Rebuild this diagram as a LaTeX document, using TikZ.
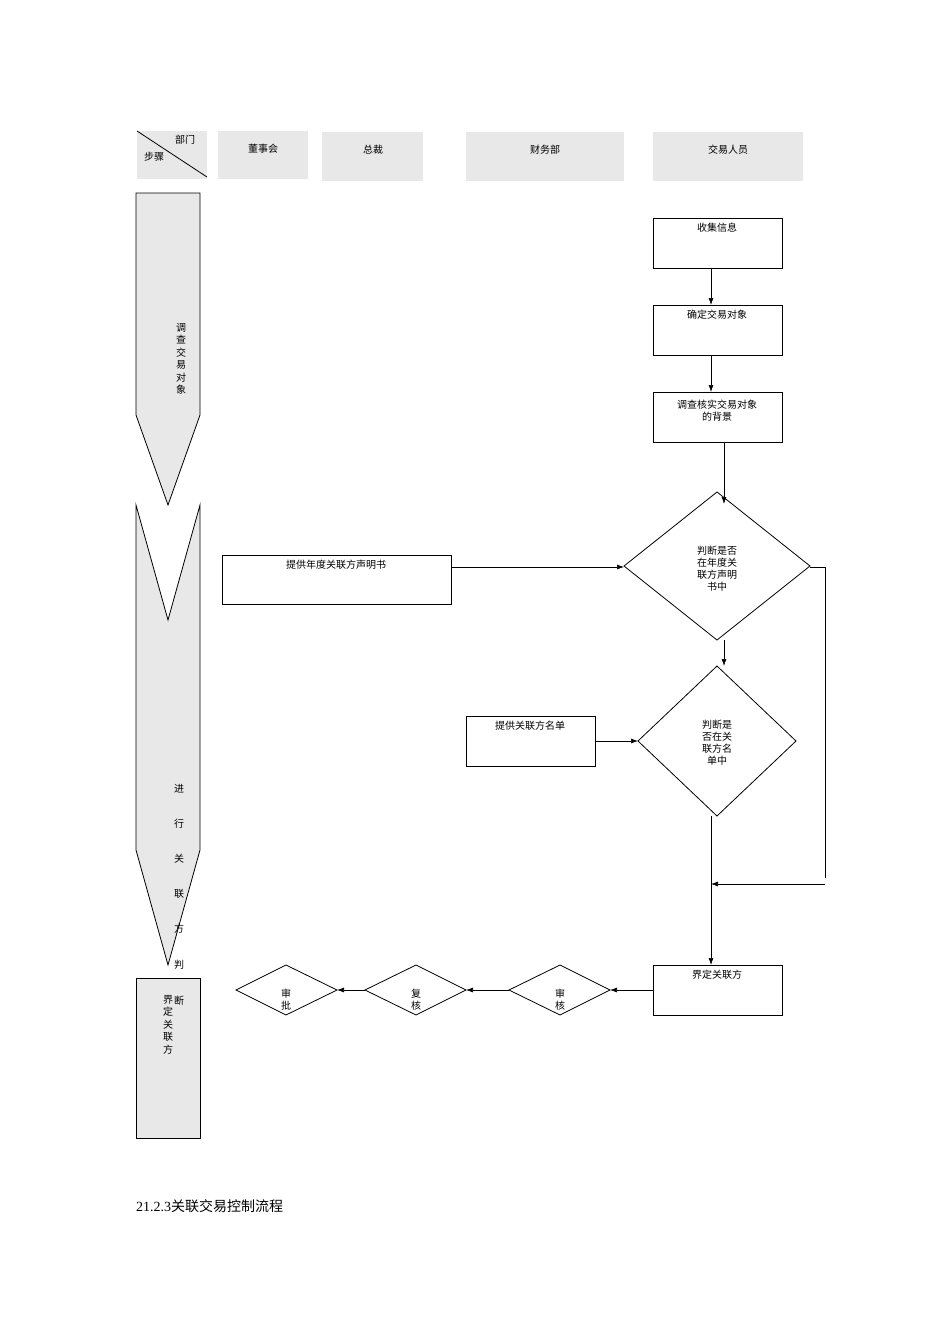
\documentclass[tikz,border=0pt]{standalone}
\usepackage{fontspec}
\setmainfont{Liberation Serif}
\newfontfamily\cjk{Noto Sans CJK SC}
\usetikzlibrary{arrows.meta}
\definecolor{hg}{HTML}{E8E8E8}
\begin{document}
\begin{tikzpicture}[x=1pt,y=-1pt,
  hd/.style={fill=hg,draw=none},
  bx/.style={draw,line width=0.8pt},
  gs/.style={draw,fill=hg,line width=0.8pt},
  ar/.style={-{Latex[length=7pt,width=5pt]},line width=0.7pt},
  ln/.style={line width=0.7pt},
  t/.style={font=\cjk\fontsize{10}{12}\selectfont,inner sep=0pt,align=center},
  vt/.style={font=\cjk\fontsize{10}{12.5}\selectfont,inner sep=0pt,align=center,anchor=north}]
\useasboundingbox (0,0) rectangle (950,1344);
% header
\fill[hg] (137,131) rectangle (207,179);
\draw[line width=0.8pt] (137,131) -- (207,177);
\node[t] (h0a) at (185,140) {部门};
\node[t] (h0b) at (154,157) {步骤};
\fill[hg] (218,131) rectangle (308,179); \node[t] (h1) at (263,149) {董事会};
\fill[hg] (322,132) rectangle (423,181); \node[t] (h2) at (373,150) {总裁};
\fill[hg] (466,132) rectangle (624,181); \node[t] (h3) at (545,150) {财务部};
\fill[hg] (653,132) rectangle (803,181); \node[t] (h4) at (728,150) {交易人员};
% left column
\draw[gs] (136,193) -- (200,193) -- (200,415) -- (168,505) -- (136,415) -- cycle;
\node[vt] (s1) at (181,323) {调\\查\\交\\易\\对\\象};
\draw[gs] (136,505) -- (168,620) -- (200,505) -- (200,850) -- (168,965) -- (136,850) -- cycle;
\foreach \c/\yy in {进/789,行/824,关/859,联/894,方/929,判/965}
  \node[t] at (179,\yy) {\c};
\draw[gs] (136,978) rectangle (200,1138);
\node[vt] (s3) at (168,995) {界\\定\\关\\联\\方};
\node[t] at (179,1001) {断};
% right flow
\node[bx,minimum width=129pt,minimum height=50pt,inner sep=0pt] (b1) at (717.5,243) {};
\node[t] at (717,228) {收集信息};
\node[bx,minimum width=129pt,minimum height=50pt,inner sep=0pt] (b2) at (717.5,330) {};
\node[t] at (717,315) {确定交易对象};
\node[bx,minimum width=129pt,minimum height=50pt,inner sep=0pt] (b3) at (717.5,417) {};
\node[t] at (717,411) {调查核实交易对象\\的背景};
\draw[ar] (711,268) -- (711,305);
\draw[ar] (711,355) -- (711,392);
\draw[bx] (624,566) -- (717,492) -- (810,566) -- (717,640) -- cycle;
\node[t] (d1t) at (717,569) {判断是否\\在年度关\\联方声明\\书中};
\coordinate (d1top) at (724,504);
\draw[ar] (724,442) -- (724,504);
\node[bx,minimum width=229pt,minimum height=49pt,inner sep=0pt] (p1) at (336.5,579.5) {};
\node[t] at (336,565) {提供年度关联方声明书};
\draw[ar] (451,567) -- (624,567);
\draw[ln] (810,567) -- (825,567) -- (825,878);
\draw[ar] (825,884) -- (711,884);
\draw[bx] (638,741) -- (717,666) -- (796,741) -- (717,816) -- cycle;
\node[t] (d2t) at (717,743) {判断是\\否在关\\联方名\\单中};
\draw[ar] (724,640) -- (724,666);
\node[bx,minimum width=129pt,minimum height=50pt,inner sep=0pt] (p2) at (530.5,741) {};
\node[t] at (530,726) {提供关联方名单};
\draw[ar] (595,741) -- (638,741);
\node[bx,minimum width=129pt,minimum height=50pt,inner sep=0pt] (b4) at (717.5,990) {};
\node[t] at (717,975) {界定关联方};
\draw[ar] (711,816) -- (711,965);
\draw[bx] (509,990) -- (560,965) -- (610,990) -- (560,1015) -- cycle;
\node[t] at (560,1000) {审\\核};
\draw[bx] (365,990) -- (416,965) -- (466,990) -- (416,1015) -- cycle;
\node[t] at (416,1000) {复\\核};
\draw[bx] (236,990) -- (286,965) -- (337,990) -- (286,1015) -- cycle;
\node[t] at (286,1000) {审\\批};
\draw[ar] (653,990) -- (610,990);
\draw[ar] (509,990) -- (466,990);
\draw[ar] (365,990) -- (337,990);
\node[anchor=west,inner sep=0pt,font=\fontsize{14}{16}\selectfont] (title) at (136,1206) {21.2.3{\cjk 关联交易控制流程}};
\end{tikzpicture}
\end{document}
